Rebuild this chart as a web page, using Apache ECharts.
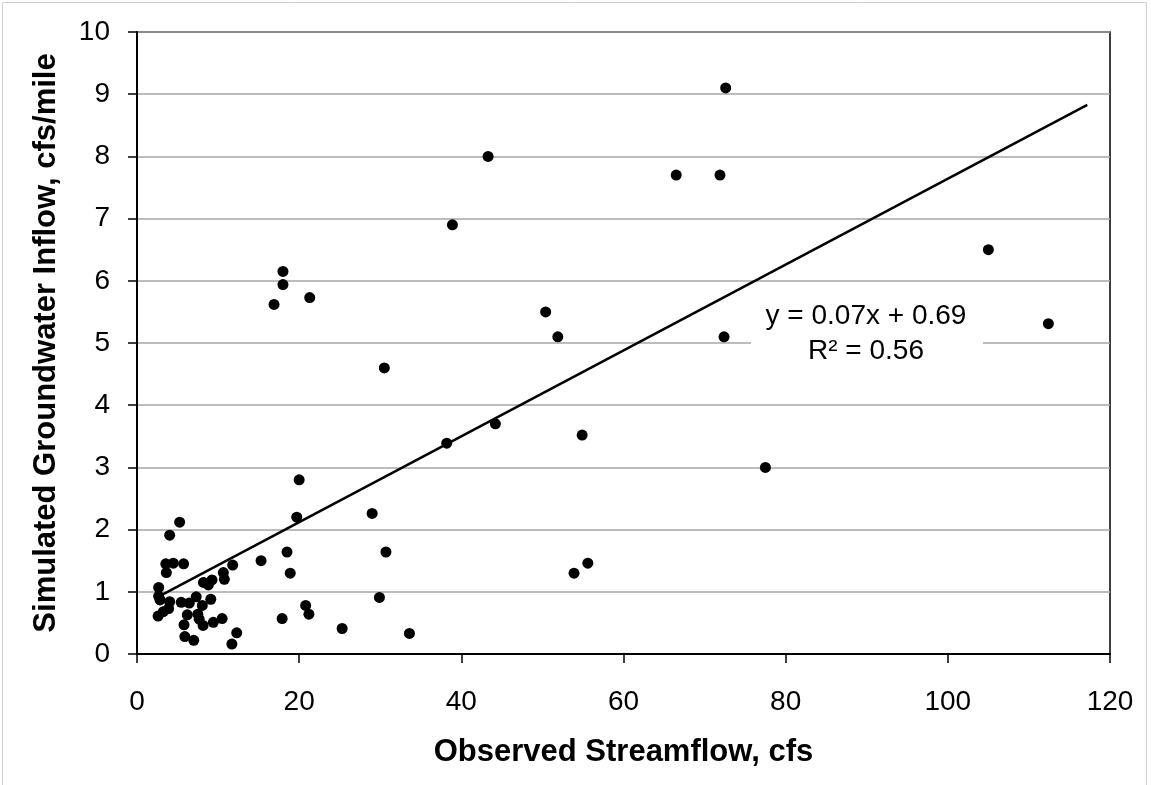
<!DOCTYPE html>
<html>
<head>
<meta charset="utf-8">
<script src="https://cdn.jsdelivr.net/npm/echarts@6/dist/echarts.min.js"></script>
<style>
html,body{margin:0;padding:0;background:#fff;}
#c{width:1151px;height:785px;}
</style>
</head>
<body>
<div id="c"></div>
<script>
// Observed streamflow (cfs) vs simulated groundwater inflow (cfs/mile)
const streamflow = [72.6, 43.3, 66.5, 71.9, 38.9, 105.0, 18.0, 18.0, 16.9, 21.3, 50.4, 112.4, 51.9, 72.4, 30.5, 44.2, 38.2, 54.9, 77.5, 20.0, 19.7, 29.0, 30.7, 18.5, 18.9, 53.9, 55.6, 29.9, 20.8, 21.2, 17.9, 25.3, 33.6, 15.3,
  5.26, 4.03, 3.55, 4.48, 5.75, 3.62, 11.8, 10.65, 10.77, 9.25, 8.2, 8.8, 2.67, 2.67, 2.84, 4.03, 5.45, 6.45, 7.3, 8.05, 9.1, 3.9, 3.25, 2.6, 6.2, 7.5, 7.67, 5.8, 8.15, 9.41, 10.5, 5.9, 7.0, 12.3, 11.7];
const inflow = [9.10, 8.00, 7.70, 7.70, 6.90, 6.50, 6.15, 5.94, 5.62, 5.73, 5.50, 5.31, 5.10, 5.10, 4.60, 3.70, 3.39, 3.52, 3.00, 2.80, 2.20, 2.26, 1.64, 1.64, 1.30, 1.30, 1.46, 0.91, 0.78, 0.64, 0.57, 0.41, 0.33, 1.50,
  2.12, 1.91, 1.45, 1.46, 1.45, 1.31, 1.43, 1.31, 1.20, 1.19, 1.15, 1.11, 1.07, 0.93, 0.87, 0.84, 0.83, 0.82, 0.92, 0.78, 0.88, 0.73, 0.68, 0.61, 0.63, 0.64, 0.56, 0.47, 0.46, 0.51, 0.57, 0.28, 0.22, 0.34, 0.16];
// Trendline as drawn
const trendSlope = 0.069;
const trendIntercept = 0.74;
const trendXRange = [2.6, 117.2];
const equationLines = ['y = 0.07x + 0.69', 'R\u00B2 = 0.56'];
const xTicks = {min: 0, max: 120, interval: 20};
const yTicks = {min: 0, max: 10, interval: 1};

const points = streamflow.map((x, i) => [x, inflow[i]]);
const trend = trendXRange.map(x => [x, trendSlope * x + trendIntercept]);

const FONT = '"Liberation Sans", Arial, sans-serif';
const chart = echarts.init(document.getElementById('c'), null, {renderer: 'canvas'});
chart.setOption({
  backgroundColor: '#fff',
  animation: false,
  grid: {left: 137, right: 41, top: 32, bottom: 131, show: true, borderColor: '#000', borderWidth: 1.5, backgroundColor: 'transparent'},
  xAxis: {
    type: 'value', min: xTicks.min, max: xTicks.max, interval: xTicks.interval,
    name: 'Observed Streamflow, cfs', nameLocation: 'middle', nameGap: 83,
    nameTextStyle: {fontFamily: FONT, fontSize: 31, fontWeight: 'bold', color: '#000'},
    axisLine: {lineStyle: {color: '#000', width: 2}},
    axisTick: {show: true, inside: false, length: 9, lineStyle: {color: '#000', width: 1.5}},
    axisLabel: {fontFamily: FONT, fontSize: 28, color: '#000', margin: 34},
    splitLine: {show: false}
  },
  yAxis: {
    type: 'value', min: yTicks.min, max: yTicks.max, interval: yTicks.interval,
    name: 'Simulated Groundwater Inflow, cfs/mile', nameLocation: 'middle', nameGap: 75, nameRotate: 90,
    nameTextStyle: {fontFamily: FONT, fontSize: 31, fontWeight: 'bold', color: '#000'},
    axisLine: {lineStyle: {color: '#000', width: 2}},
    axisTick: {show: true, inside: false, length: 9, lineStyle: {color: '#000', width: 1.5}},
    axisLabel: {fontFamily: FONT, fontSize: 28, color: '#000', margin: 27},
    splitLine: {show: true, lineStyle: {color: '#a6a6a6', width: 1.5}}
  },
  series: [
    {type: 'scatter', data: points, symbol: 'circle', symbolSize: 11, itemStyle: {color: '#000', opacity: 1}, z: 3},
    {type: 'line', data: trend, symbol: 'none', lineStyle: {color: '#000', width: 2.5}, z: 2, silent: true}
  ],
  graphic: [
    {type: 'rect', left: 0, top: 0, shape: {x: 5.5, y: 5.5, width: 1144, height: 790}, style: {fill: 'none', stroke: '#d0d0d0', lineWidth: 1}, z: 0, silent: true},
    {type: 'rect', shape: {x: 751, y: 298, width: 232, height: 74}, style: {fill: '#fff'}, z: 10},
    {type: 'text', x: 866, y: 316, style: {text: equationLines[0], font: '28px ' + FONT, fill: '#000', textAlign: 'center', textVerticalAlign: 'middle'}, z: 11},
    {type: 'text', x: 866, y: 351, style: {text: equationLines[1], font: '28px ' + FONT, fill: '#000', textAlign: 'center', textVerticalAlign: 'middle'}, z: 11}
  ]
});
</script>
</body>
</html>
